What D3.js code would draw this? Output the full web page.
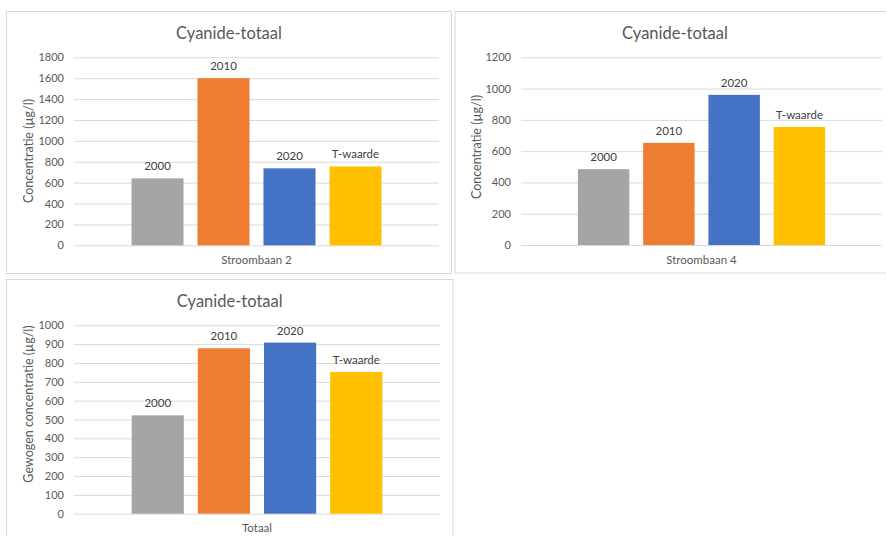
<!DOCTYPE html>
<html>
<head>
<meta charset="utf-8">
<script src="https://cdn.jsdelivr.net/npm/d3@7"></script>
<style>
  html, body { margin: 0; padding: 0; background: #ffffff; }
  svg { display: block; }
  text { font-family: Lato, "Open Sans", sans-serif; }
</style>
</head>
<body>
<svg id="chart" width="886" height="536"></svg>
<script>
// Series (years plus the reference T-waarde)
const series = ["2000", "2010", "2020", "T-waarde"];

// Measured cyanide concentrations (µg/l) per flow path
const stroombaan2 = [641, 1600, 737, 755];
const stroombaan4 = [485, 653, 960, 755];
const totaal      = [522, 878, 908, 752];

// Y-axis tick labels per chart
const ticksStroombaan2 = [0, 200, 400, 600, 800, 1000, 1200, 1400, 1600, 1800];
const ticksStroombaan4 = [0, 200, 400, 600, 800, 1000, 1200];
const ticksTotaal      = [0, 100, 200, 300, 400, 500, 600, 700, 800, 900, 1000];

const seriesColors = ["#A5A5A5", "#ED7D31", "#4472C4", "#FFC000"];

const svg = d3.select("#chart");

const panels = [
  {
    category: "Stroombaan 2", values: stroombaan2, ticks: ticksStroombaan2,
    yTitle: "Concentratie (µg/l)",
    frame: { x: 6.5, y: 11.5, w: 445, h: 262 },
    plot: { left: 74, right: 439, top: 57.3, bottom: 245.3 },
    yTitleX: 30, yTitleY: 151, catY: 264
  },
  {
    category: "Stroombaan 4", values: stroombaan4, ticks: ticksStroombaan4,
    yTitle: "Concentratie (µg/l)",
    frame: { x: 455, y: 11.5, w: 440, h: 261.5 },
    plot: { left: 521, right: 882, top: 57.3, bottom: 245 },
    yTitleX: 478, yTitleY: 147, catY: 264
  },
  {
    category: "Totaal", values: totaal, ticks: ticksTotaal,
    yTitle: "Gewogen concentratie (µg/l)",
    frame: { x: 6.5, y: 279.5, w: 446.5, h: 270 },
    plot: { left: 74, right: 440, top: 325.3, bottom: 513.7 },
    yTitleX: 30, yTitleY: 404, catY: 532
  }
];

panels.forEach(p => {
  const g = svg.append("g");

  // chart frame
  g.append("rect")
    .attr("x", p.frame.x).attr("y", p.frame.y)
    .attr("width", p.frame.w).attr("height", p.frame.h)
    .attr("fill", "#ffffff")
    .attr("stroke", "#d9d9d9").attr("stroke-width", 1);

  // title
  g.append("text")
    .attr("x", p.frame.x + p.frame.w / 2)
    .attr("y", p.frame.y + 27)
    .attr("text-anchor", "middle")
    .attr("font-size", 16.5)
    .attr("fill", "#595959")
    .text("Cyanide-totaal");

  const y = d3.scaleLinear()
    .domain([0, d3.max(p.ticks)])
    .range([p.plot.bottom, p.plot.top]);

  const xCat = d3.scaleBand()
    .domain([p.category])
    .range([p.plot.left, p.plot.right]);

  const groupCenter = xCat(p.category) + xCat.bandwidth() / 2;
  const groupHalf = xCat.bandwidth() * 0.3616;
  const xSeries = d3.scaleBand()
    .domain(series)
    .range([groupCenter - groupHalf, groupCenter + groupHalf])
    .paddingInner(0.212)
    .paddingOuter(0.106);

  // gridlines and tick labels
  const yAxis = d3.axisLeft(y)
    .tickValues(p.ticks)
    .tickFormat(d3.format("d"))
    .tickSize(-(p.plot.right - p.plot.left))
    .tickPadding(10);

  const ax = g.append("g")
    .attr("transform", `translate(${p.plot.left},0)`)
    .call(yAxis);
  ax.select(".domain").remove();
  ax.selectAll(".tick line").attr("stroke", "#d9d9d9").attr("stroke-width", 1);
  ax.selectAll(".tick text")
    .attr("fill", "#595959")
    .attr("font-size", 11)
    .style("font-family", "Lato, 'Open Sans', sans-serif");

  // bars
  g.selectAll("rect.bar")
    .data(p.values.map((v, i) => ({ s: series[i], v, c: seriesColors[i] })))
    .join("rect")
    .attr("class", "bar")
    .attr("x", d => xSeries(d.s))
    .attr("width", xSeries.bandwidth())
    .attr("y", d => y(d.v))
    .attr("height", d => y(0) - y(d.v))
    .attr("fill", d => d.c);

  // series labels above bars
  g.selectAll("text.lbl")
    .data(p.values.map((v, i) => ({ s: series[i], v })))
    .join("text")
    .attr("class", "lbl")
    .attr("x", d => xSeries(d.s) + xSeries.bandwidth() / 2)
    .attr("y", d => y(d.v) - 8)
    .attr("text-anchor", "middle")
    .attr("font-size", 11.5)
    .attr("fill", "#404040")
    .text(d => d.s);

  // category label
  g.append("text")
    .attr("x", groupCenter)
    .attr("y", p.catY)
    .attr("text-anchor", "middle")
    .attr("font-size", 11.5)
    .attr("fill", "#595959")
    .text(p.category);

  // y-axis title
  g.append("text")
    .attr("transform", `translate(${p.yTitleX},${p.yTitleY}) rotate(-90)`)
    .attr("text-anchor", "middle")
    .attr("dominant-baseline", "middle")
    .attr("font-size", 12.5)
    .attr("fill", "#595959")
    .text(p.yTitle);
});
</script>
</body>
</html>
